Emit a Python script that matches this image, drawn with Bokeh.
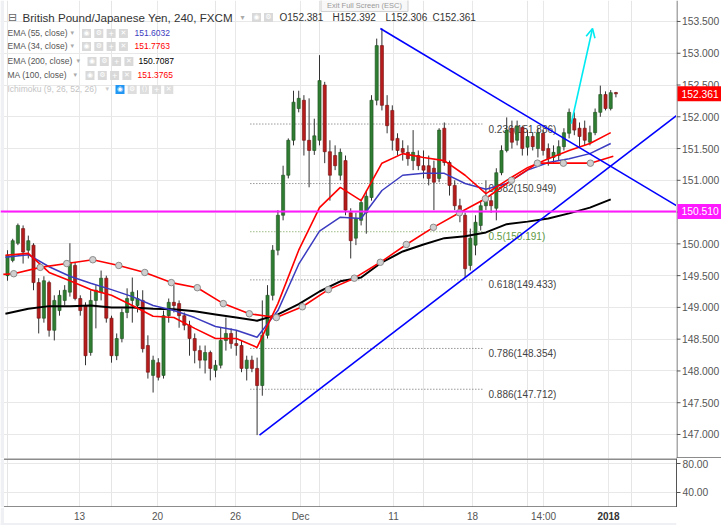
import numpy as np
from bokeh.plotting import figure
from bokeh.layouts import column, row
from bokeh.models import (ColumnDataSource, FixedTicker, NumeralTickFormatter, Span,
                          Arrow, OpenHead, Range1d, Grid)
from bokeh.core.properties import value
from bokeh.embed import file_html
from bokeh.resources import INLINE

# ---------------- data (GBP/JPY 4h candles) ----------------
candle_open = [149.50, 149.74, 150.01, 150.24, 149.90, 149.98, 149.39, 148.83, 149.39, 148.64,
               148.95, 149.11, 149.24, 149.66, 149.14, 149.03, 148.29, 149.11, 149.24, 149.46,
               148.83, 148.24, 148.51, 148.92, 149.11, 149.03, 149.11, 148.40, 147.93, 148.13,
               147.93, 148.87, 149.08, 149.06, 148.87, 148.72, 148.51, 148.32, 148.17, 148.29,
               148.01, 148.09, 148.48, 148.59, 148.43, 148.40, 148.04, 148.17, 148.04, 147.77,
               148.56, 149.19, 149.90, 150.45, 151.08, 151.63, 152.13, 152.26, 151.63, 151.47,
               151.63, 152.50, 151.45, 151.39, 151.08, 151.31, 150.49, 150.09, 150.37, 150.49,
               150.73, 152.26, 153.12, 152.18, 152.10, 151.66, 151.50, 151.44, 151.31, 151.39,
               151.23, 151.23, 151.19, 151.03, 151.82, 151.28, 150.92, 150.60, 150.45, 149.66,
               149.98, 150.29, 150.60, 150.68, 150.56, 151.12, 151.47, 151.82, 151.63, 151.83,
               151.52, 151.69, 151.50, 151.74, 151.50, 151.36, 151.39, 151.53, 151.74, 151.97,
               151.82, 151.82, 151.60, 151.75, 152.07, 152.35, 152.13, 152.381]
candle_high = [149.90, 150.08, 150.32, 150.29, 150.13, 150.01, 149.46, 149.49, 149.42, 149.19,
               149.27, 149.35, 150.01, 149.71, 149.19, 149.08, 149.27, 149.35, 149.58, 149.50,
               148.87, 148.59, 148.98, 149.30, 149.47, 149.27, 149.27, 148.56, 148.24, 148.20,
               148.95, 149.14, 149.35, 149.11, 148.92, 148.79, 148.59, 148.40, 148.40, 148.32,
               148.17, 148.68, 148.84, 148.67, 148.64, 148.48, 148.24, 148.24, 148.21, 149.11,
               149.35, 149.98, 150.53, 151.23, 151.66, 152.41, 152.41, 152.34, 152.29, 151.97,
               152.97, 152.55, 151.63, 151.55, 151.50, 151.39, 150.56, 150.49, 150.71, 150.84,
               152.34, 153.23, 153.39, 152.34, 152.18, 151.74, 151.63, 151.55, 151.79, 151.47,
               151.47, 151.39, 151.31, 151.82, 151.91, 151.31, 151.00, 150.71, 150.49, 150.24,
               150.45, 150.68, 151.00, 150.76, 151.19, 151.55, 151.99, 151.94, 151.94, 151.86,
               151.79, 151.75, 151.82, 151.79, 151.58, 151.55, 151.63, 151.82, 152.13, 152.07,
               151.91, 151.94, 151.86, 152.13, 152.49, 152.40, 152.42, 152.392]
candle_low = [149.42, 149.71, 149.98, 149.69, 149.77, 149.27, 148.59, 148.76, 148.54, 148.48,
              148.87, 149.03, 149.17, 149.11, 148.87, 148.09, 148.24, 148.67, 149.11, 148.76,
              148.13, 148.17, 148.45, 148.83, 148.76, 148.92, 148.29, 147.88, 147.66, 147.85,
              147.88, 148.76, 148.92, 148.68, 148.64, 148.24, 148.12, 148.04, 147.96, 147.85,
              147.90, 148.04, 148.32, 148.35, 148.24, 147.98, 147.85, 147.98, 146.99, 147.61,
              148.51, 149.11, 149.82, 150.37, 151.03, 151.55, 152.07, 151.39, 150.89, 151.40,
              151.55, 151.27, 150.68, 151.16, 151.00, 150.45, 149.77, 149.98, 150.29, 150.16,
              150.68, 152.18, 152.10, 151.74, 151.47, 151.39, 151.31, 151.23, 151.16, 151.16,
              151.03, 150.92, 150.53, 150.97, 151.23, 150.76, 150.53, 150.34, 149.46, 149.58,
              149.82, 150.21, 150.53, 150.49, 150.37, 151.08, 151.44, 151.50, 151.55, 151.39,
              151.39, 151.47, 151.36, 151.39, 151.23, 151.27, 151.31, 151.47, 151.66, 151.71,
              151.52, 151.55, 151.55, 151.71, 152.00, 152.10, 152.10, 152.306]
candle_close = [149.82, 150.05, 150.29, 149.87, 150.05, 149.39, 148.83, 149.42, 148.64, 149.11,
                149.19, 149.27, 149.71, 149.14, 148.95, 148.24, 149.11, 149.27, 149.46, 148.83,
                148.24, 148.51, 148.92, 149.14, 149.24, 149.14, 148.35, 147.98, 148.17, 147.90,
                148.87, 149.08, 149.03, 148.87, 148.72, 148.51, 148.32, 148.17, 148.29, 148.04,
                148.09, 148.48, 148.59, 148.43, 148.40, 148.04, 148.17, 148.04, 147.77, 148.56,
                149.19, 149.90, 150.45, 151.08, 151.63, 152.23, 152.29, 151.63, 151.47, 151.70,
                152.57, 151.45, 151.08, 151.23, 151.44, 150.53, 150.05, 150.40, 150.65, 150.75,
                152.26, 153.12, 152.18, 151.86, 151.63, 151.47, 151.44, 151.34, 151.44, 151.23,
                151.16, 151.03, 150.97, 151.79, 151.28, 150.92, 150.60, 150.45, 149.61, 150.09,
                150.34, 150.60, 150.71, 150.60, 151.12, 151.47, 151.79, 151.60, 151.85, 151.50,
                151.69, 151.53, 151.75, 151.47, 151.34, 151.44, 151.53, 151.75, 152.07, 151.79,
                151.69, 151.63, 151.75, 152.07, 152.35, 152.13, 152.38, 152.361]

# moving averages sampled every 4 candles (candle index)
ma_index = [-0.4, 4, 8, 12, 16, 20, 24, 28, 32, 36, 40, 44, 48, 52, 56, 60, 64, 68, 72, 76,
            80, 84, 88, 92, 96, 100, 104, 108, 112, 116]
ema34 = [149.82, 149.85, 149.55, 149.42, 149.28, 149.19, 149.03, 148.86, 148.84, 148.67,
         148.51, 148.51, 148.37, 149.06, 149.90, 150.57, 150.89, 150.68, 151.27, 151.42,
         151.36, 151.31, 151.08, 150.79, 151.00, 151.20, 151.34, 151.47, 151.58, 151.75]
ema55 = [149.79, 149.83, 149.64, 149.49, 149.38, 149.28, 149.17, 149.03, 148.95, 148.84,
         148.70, 148.64, 148.53, 148.95, 149.68, 150.20, 150.42, 150.40, 150.84, 151.08,
         151.11, 151.11, 150.95, 150.86, 150.95, 151.16, 151.28, 151.34, 151.42, 151.58]
ema200 = [148.90, 148.98, 149.02, 149.02, 149.03, 149.00, 149.00, 148.98, 148.97, 148.94,
          148.89, 148.84, 148.79, 148.89, 149.05, 149.25, 149.41, 149.47, 149.71, 149.88,
          149.99, 150.09, 150.12, 150.18, 150.31, 150.35, 150.40, 150.48, 150.57, 150.70]
# MA(100) with its circle markers (first and last points have no circle)
ma100_index = [-0.8, 1.2, 6.3, 11.4, 16.4, 21.4, 26.4, 31.5, 36.5, 41.5, 46.5, 51.7, 56.7,
               61.7, 66.7, 71.7, 76.7, 81.9, 86.9, 91.9, 96.9, 101.9, 106.9, 112.1, 116.5]
ma100 = [149.52, 149.53, 149.63, 149.69, 149.75, 149.66, 149.55, 149.39, 149.31, 149.06,
         148.90, 148.84, 149.01, 149.28, 149.46, 149.71, 149.99, 150.26, 150.49, 150.71,
         151.00, 151.27, 151.27, 151.27, 151.38]

legend_values = {"EMA55": "151.6032", "EMA34": "151.7763", "EMA200": "150.7087", "MA100": "151.3765"}
ohlc_text = ["O152.381", "H152.392", "L152.306", "C152.361"]

# time axis (candle index of each date label)
tick_index = [13.85, 28.85, 43.85, 56.35, 74.23, 89.42, 103.08, 115.58]
tick_labels = ["13", "20", "26", "Dec", "11", "18", "14:00", "2018"]
price_ticks = [147.0, 147.5, 148.0, 148.5, 149.0, 149.5, 150.0, 150.5, 151.0, 151.5,
               152.0, 152.5, 153.0, 153.5]
osc_ticks = [40, 80]

# Fibonacci retracement
fib_levels = ["0.236", "0.382", "0.5", "0.618", "0.786", "0.886"]
fib_prices = [151.886, 150.949, 150.191, 149.433, 148.354, 147.712]
fib_start, fib_end = 46.7, 91.5

# drawings
trend_down_idx, trend_down_px = [71.7, 128.65], [153.39, 150.60]
trend_up_idx, trend_up_px = [48.46, 128.65], [146.99, 152.02]
arrow_idx, arrow_px = [108.4, 112.5], [151.89, 153.39]
hline_price = 150.510
last_price = 152.361

# ---------------- layout constants ----------------
FONT = "Liberation Sans"
X0, X1 = -1.346, 128.65          # frame spans page x 0..676
Y0, Y1 = 146.622, 153.83         # frame spans page y 0..458
OY0, OY1 = 19.3, 86.9            # lower panel spans page y 458..507
GRID = "#e8e8e8"
AX = "#555555"
SEP = "#666666"
PAGE = "#eef0f4"
AXW = 45
XL = (3.5 - 7) / 5.2             # data x of the page-border strip edge


def bare(fig):
    fig.outline_line_color = None
    fig.min_border_left = fig.min_border_right = fig.min_border_top = fig.min_border_bottom = 0
    return fig


p = bare(figure(width=676, height=458, x_range=Range1d(X0, X1), y_range=Range1d(Y0, Y1),
                output_backend="svg", toolbar_location=None,
                x_axis_location=None, y_axis_location=None))
p.add_layout(Grid(dimension=0, ticker=FixedTicker(ticks=tick_index), grid_line_color=GRID))
p.add_layout(Grid(dimension=1, ticker=FixedTicker(ticks=price_ticks), grid_line_color=GRID))
p.quad(left=[X0], right=[XL], bottom=[Y0], top=[Y1], fill_color=PAGE, line_color=None)


def at(xr, yr):
    """page-pixel layout position -> data coordinates (for legend texts only)"""
    return (xr - 7) / 5.2, 153.5 - (yr - 21) / 63.54


def txt(xr, yr, s, color="#555555", size="8.5px", style="normal", font=FONT, align="left"):
    x, y = at(xr, yr)
    p.text(x=[x], y=[y], text=[s], text_color=color, text_font_size=size,
           text_font=value(font), text_font_style=style, text_align=align,
           text_baseline="middle")


def box(xr, yr, sym, fill="#d9d9d9"):
    x, y = at(xr, yr)
    p.scatter(x=[x], y=[y], marker="square", size=9, fill_color=fill, line_color=None)
    p.text(x=[x], y=[y], text=[sym], text_color="white", text_font_size="7px",
           text_font=value("DejaVu Sans"), text_align="center", text_baseline="middle")


# Fibonacci levels (behind candles)
for lvl, pr in zip(fib_levels, fib_prices):
    col = "#6a9a48" if lvl == "0.5" else "#666666"
    p.segment(x0=[fib_start], y0=[pr], x1=[fib_end], y1=[pr], line_color=col,
              line_dash="1 2", line_width=1)
    p.text(x=[fib_end + 1.0], y=[pr], y_offset=5, text=[f"{lvl}({pr:.3f})"],
           text_color="#5f9a45" if lvl == "0.5" else "#444444", text_font_size="10px",
           text_font=value(FONT), text_baseline="middle")

# magenta horizontal level
p.add_layout(Span(location=hline_price, dimension="width", line_color="#ff19ff", line_width=2))

# candles
o = np.array(candle_open); h = np.array(candle_high)
l = np.array(candle_low); c = np.array(candle_close)
ix = np.arange(len(o))
p.segment(x0=ix, y0=h, x1=ix, y1=l, line_color="#333333", line_width=1)
up = c >= o
src_up = ColumnDataSource(dict(x=ix[up], top=c[up], bottom=o[up]))
src_dn = ColumnDataSource(dict(x=ix[~up], top=o[~up], bottom=c[~up]))
p.vbar(x="x", top="top", bottom="bottom", width=0.6, source=src_up,
       fill_color="#2e7d32", line_color="#1f4f1f", line_width=0.6)
p.vbar(x="x", top="top", bottom="bottom", width=0.6, source=src_dn,
       fill_color="#b71c1c", line_color="#6e1010", line_width=0.6)

# moving averages
p.line(ma_index, ema200, line_color="#000000", line_width=2)
p.line(ma_index, ema55, line_color="#3c3cc0", line_width=1.5)
p.line(ma_index, ema34, line_color="#ff0000", line_width=1.6)
p.line(ma100_index, ma100, line_color="#ff0000", line_width=1.6)
p.scatter(ma100_index[1:-1], ma100[1:-1], size=6.5, fill_color="#cfcfcf", line_color="#8c8c8c")

# triangle lines and arrow
p.line(trend_down_idx, trend_down_px, line_color="#0000ff", line_width=1.6)
p.line(trend_up_idx, trend_up_px, line_color="#0000ff", line_width=1.6)
p.add_layout(Arrow(end=OpenHead(size=9, line_color="#00eaf2", line_width=1.6),
                   x_start=arrow_idx[0], y_start=arrow_px[0],
                   x_end=arrow_idx[1], y_end=arrow_px[1],
                   line_color="#00eaf2", line_width=1.6))

# ---------------- legend / header ----------------
txt(12, 17, "\u229f", color="#666666", size="11px", font="DejaVu Sans", align="center")
txt(22, 17, "British Pound/Japanese Yen, 240, FXCM", color="#333333", size="11.6px")
txt(240, 17, "\u25be", color="#aaaaaa", size="8px", font="DejaVu Sans")
box(256, 17, "\u25c9"); box(268, 17, "\u2699")
for xr, s in zip([279, 332, 385, 432], ohlc_text):
    txt(xr, 17, s, color="#333333", size="10px")

rows = [
    ("EMA (55, close)", legend_values["EMA55"], "#3c3cc0", 33, 70, 86, 134),
    ("EMA (34, close)", legend_values["EMA34"], "#ff0000", 46, 70, 86, 134),
    ("EMA (200, close)", legend_values["EMA200"], "#000000", 61, 76, 91.5, 138),
    ("MA (100, close)", legend_values["MA100"], "#ff0000", 75, 73, 89.5, 137),
]
for lab, val, col, yr, xa, xb, xv in rows:
    txt(7, yr, lab, color="#555555", size="8.5px")
    txt(xa, yr, "\u25be", color="#aaaaaa", size="7px", font="DejaVu Sans")
    for k, sym in enumerate(["\u25c9", "\u2699", "+", "\u2715"]):
        box(xb + 12.3 * k, yr, sym)
    txt(xv, yr, val, color=col, size="8.5px")
txt(7, 89, "Ichimoku (9, 26, 52, 26)", color="#c4c4c4", size="8.5px")
txt(105, 89, "\u25be", color="#cccccc", size="7px", font="DejaVu Sans")
for k, sym in enumerate(["\u25c9", "\u2699", "()", "+", "\u2715"]):
    box(119.5 + 12.2 * k, 89, sym, fill="#2196f3" if k == 0 else "#dedede")

# browser overlay
xe, ye = at(364, 5)
p.rect(x=[xe], y=[ye], width=87, height=12, width_units="screen", height_units="screen",
       fill_color="#f8f8f8", line_color="#cfcfcf")
txt(364, 5, "Exit Full Screen (ESC)", color="#9a9a9a", size="7.5px", align="center")

# ---------------- price axis panel (right) ----------------
pa = bare(figure(width=AXW, height=458, x_range=Range1d(0, AXW), y_range=p.y_range,
                 output_backend="svg", toolbar_location=None,
                 x_axis_location=None, y_axis_location=None))
pa.xgrid.visible = False
pa.ygrid.visible = False
pa.segment(x0=[0.5], y0=[Y0], x1=[0.5], y1=[Y1], line_color=AX, line_width=1)
pa.segment(x0=[0] * len(price_ticks), y0=price_ticks, x1=[4] * len(price_ticks),
           y1=price_ticks, line_color=AX, line_width=1)
pa.text(x=[5.5] * len(price_ticks), y=price_ticks, text=[f"{t:.3f}" for t in price_ticks],
        text_color=AX, text_font_size="10.3px", text_font=value(FONT), text_baseline="middle")
for pr, fill in ((last_price, "#ff0000"), (hline_price, "#ff19ff")):
    pa.rect(x=[23], y=[pr], width=44, height=15, height_units="screen",
            fill_color=fill, line_color=None)
    pa.text(x=[5], y=[pr], text=[f"{pr:.3f}"], text_color="white", text_font_size="10.3px",
            text_font=value(FONT), text_baseline="middle")
pa.segment(x0=[0], y0=[Y0 + 0.6 / 63.54], x1=[AXW], y1=[Y0 + 0.6 / 63.54],
           line_color=SEP, line_width=1.5)

# ---------------- lower (empty oscillator) panel ----------------
q = figure(width=676 + AXW, height=49, x_range=p.x_range, y_range=Range1d(OY0, OY1),
           output_backend="svg", toolbar_location=None, y_axis_location="right",
           x_axis_location=None, min_border_left=0, min_border_top=0,
           min_border_bottom=0, min_border_right=AXW)
q.outline_line_color = None
q.yaxis.ticker = FixedTicker(ticks=osc_ticks)
q.yaxis.formatter = NumeralTickFormatter(format="0.00")
q.yaxis.axis_line_color = AX
q.yaxis.major_tick_line_color = AX
q.yaxis.major_tick_out = 4
q.yaxis.major_tick_in = 0
q.yaxis.minor_tick_line_color = None
q.yaxis.major_label_text_font = FONT
q.yaxis.major_label_text_font_size = "10.3px"
q.yaxis.major_label_text_color = AX
q.yaxis.major_label_standoff = 2
q.ygrid.grid_line_color = GRID
q.add_layout(Grid(dimension=0, ticker=FixedTicker(ticks=tick_index), grid_line_color=GRID))
q.quad(left=[X0], right=[XL], bottom=[OY0], top=[OY1], fill_color=PAGE, line_color=None)
opx = (OY1 - OY0) / 49.0
q.segment(x0=[XL, XL], y0=[OY1 - 0.6 * opx, OY0 + 0.6 * opx],
          x1=[X1, X1], y1=[OY1 - 0.6 * opx, OY0 + 0.6 * opx],
          line_color=SEP, line_width=1.5)

# ---------------- time axis labels ----------------
qb = bare(figure(width=676 + AXW, height=18, x_range=p.x_range, y_range=Range1d(0, 18),
                 output_backend="svg", toolbar_location=None,
                 x_axis_location=None, y_axis_location=None))
qb.min_border_right = AXW
qb.xgrid.visible = False
qb.ygrid.visible = False
qb.quad(left=[X0], right=[XL], bottom=[0], top=[18], fill_color=PAGE, line_color=None)
qb.quad(left=[X0], right=[X1], bottom=[0], top=[2.5], fill_color=PAGE, line_color=None)
for t, s in zip(tick_index, tick_labels):
    qb.text(x=[t], y=[9.5], text=[s], text_color="#333333" if s == "2018" else AX,
            text_font_size="10px", text_font=value(FONT),
            text_font_style="bold" if s == "2018" else "normal",
            text_align="center", text_baseline="middle")

layout = column(row(p, pa), q, qb)
open("out.html", "w").write(file_html(layout, INLINE))
